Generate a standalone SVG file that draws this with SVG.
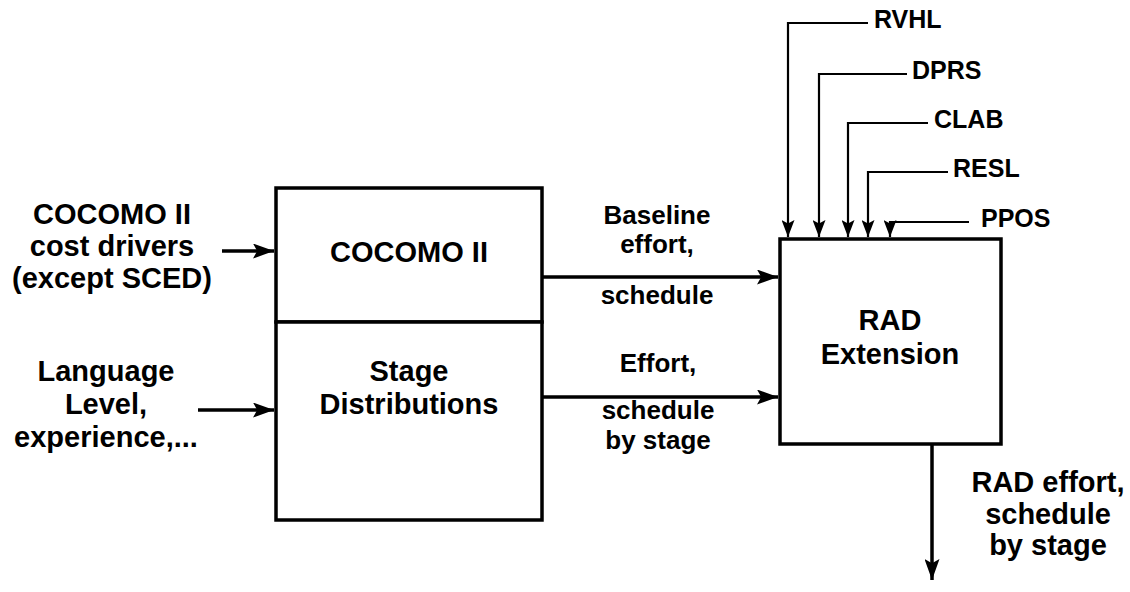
<svg xmlns="http://www.w3.org/2000/svg" width="1130" height="592" viewBox="0 0 1130 592">
<defs>
<marker id="ah" viewBox="0 0 10 10" refX="10" refY="5" markerWidth="21" markerHeight="15" preserveAspectRatio="none" markerUnits="userSpaceOnUse" orient="auto">
<path d="M0,0 L10,5 L0,10 L2,5 z" fill="#000"/>
</marker>
<marker id="ahs" viewBox="0 0 10 10" refX="10" refY="5" markerWidth="17" markerHeight="13" preserveAspectRatio="none" markerUnits="userSpaceOnUse" orient="auto">
<path d="M0,0 L10,5 L0,10 L2,5 z" fill="#000"/>
</marker>
</defs>
<style>
.box{fill:#fff;stroke:#000;stroke-width:3.5}
.ln{fill:none;stroke:#000;stroke-width:3.5}
.thin{fill:none;stroke:#000;stroke-width:2.2}
text{font-family:"Liberation Sans",Arial,sans-serif;font-weight:bold;fill:#000}
.big{font-size:29px;text-anchor:middle}
.mid{font-size:26px;text-anchor:middle}
.sm{font-size:25px}
</style>
<rect width="1130" height="592" fill="#fff"/>
<g id="connectors">
<line class="ln" x1="222" y1="251" x2="274" y2="251" marker-end="url(#ah)"/>
<line class="ln" x1="198" y1="410" x2="274" y2="410" marker-end="url(#ah)"/>
<line class="ln" x1="542" y1="277" x2="778" y2="277" marker-end="url(#ah)"/>
<line class="ln" x1="542" y1="397" x2="778" y2="397" marker-end="url(#ah)"/>
<line class="ln" x1="932" y1="445" x2="932" y2="580" marker-end="url(#ah)"/>
<polyline class="thin" points="868,23 788,23 788,237" marker-end="url(#ahs)"/>
<polyline class="thin" points="907,74 819,74 819,237" marker-end="url(#ahs)"/>
<polyline class="thin" points="928,123 848,123 848,237" marker-end="url(#ahs)"/>
<polyline class="thin" points="948,172 868,172 868,237" marker-end="url(#ahs)"/>
<polyline class="thin" points="969,222 890,222 890,237" marker-end="url(#ahs)"/>
</g>
<g id="in1">
<text class="big" x="112" y="224">COCOMO II</text>
<text class="big" x="112" y="256">cost drivers</text>
<text class="big" x="112" y="288">(except SCED)</text>
</g>
<g id="in2">
<text class="big" x="106" y="381">Language</text>
<text class="big" x="106" y="414">Level,</text>
<text class="big" x="106" y="447">experience,...</text>
</g>
<g id="cocomo">
<rect class="box" x="276" y="188" width="266" height="134"/>
<text class="big" x="409" y="262">COCOMO II</text>
</g>
<g id="stage">
<rect class="box" x="276" y="322" width="266" height="198"/>
<text class="big" x="409" y="381">Stage</text>
<text class="big" x="409" y="414">Distributions</text>
</g>
<g id="rad">
<rect class="box" x="780" y="239" width="221" height="205"/>
<text class="big" x="890" y="330">RAD</text>
<text class="big" x="890" y="364">Extension</text>
</g>
<g id="lbl-baseline">
<text class="mid" x="657" y="224">Baseline</text>
<text class="mid" x="657" y="253">effort,</text>
<text class="mid" x="657" y="304">schedule</text>
</g>
<g id="lbl-effort">
<text class="mid" x="658" y="372">Effort,</text>
<text class="mid" x="658" y="419">schedule</text>
<text class="mid" x="658" y="449">by stage</text>
</g>
<g id="lbl-out">
<text class="big" x="1048" y="492">RAD effort,</text>
<text class="big" x="1048" y="524">schedule</text>
<text class="big" x="1048" y="555">by stage</text>
</g>
<g id="drivers">
<text class="sm" x="874" y="28">RVHL</text>
<text class="sm" x="912" y="79">DPRS</text>
<text class="sm" x="934" y="128">CLAB</text>
<text class="sm" x="953" y="177">RESL</text>
<text class="sm" x="981" y="227">PPOS</text>
</g>
</svg>
